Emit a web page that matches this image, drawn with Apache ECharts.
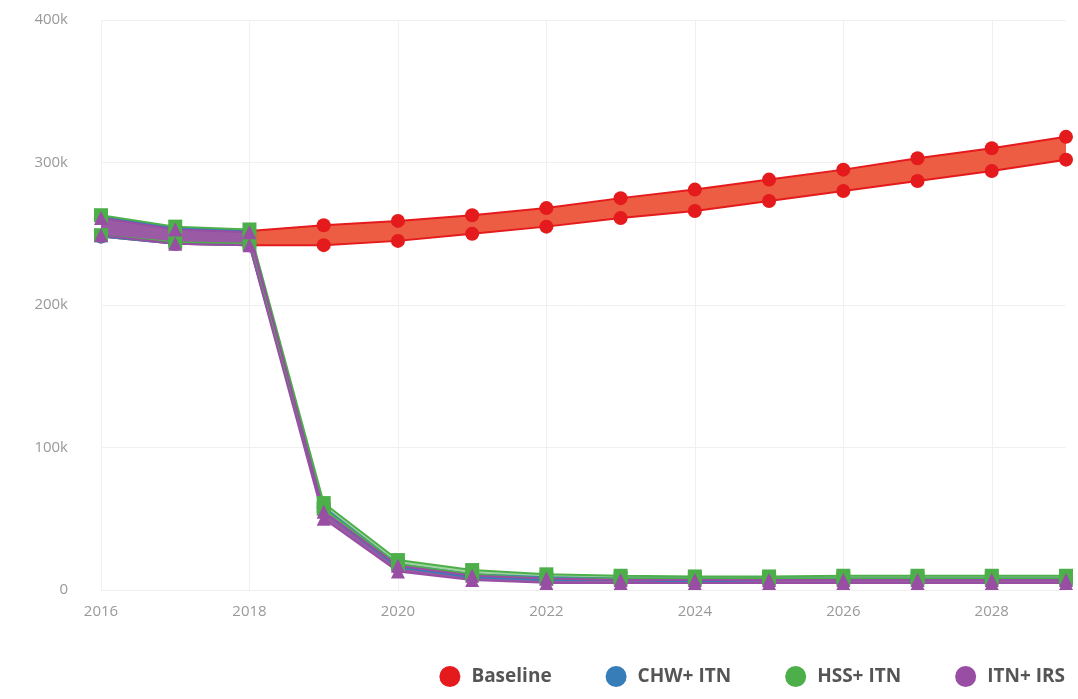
<!doctype html>
<html>
<head>
<meta charset="utf-8">
<title>Malaria cases by scenario</title>
<script src="https://cdn.jsdelivr.net/npm/echarts@6/dist/echarts.min.js"></script>
<style>
  html, body { margin: 0; padding: 0; background: #fff; }
  #chart { width: 1078px; height: 699px; }
</style>
</head>
<body>
<div id="chart"></div>
<script type="text/javascript">
var years = ['2016','2017','2018','2019','2020','2021','2022','2023','2024','2025','2026','2027','2028','2029'];

// values in thousands
var baselineHigh = [262, 254, 252, 256, 259, 263, 268, 275, 281, 288, 295, 303, 310, 318];
var baselineLow  = [248, 243, 242, 242, 245, 250, 255, 261, 266, 273, 280, 287, 294, 302];
var chwHigh = [262, 254, 252, 58, 18, 11, 9, 8, 8, 8, 8, 8, 8, 8];
var chwLow  = [248, 243, 242, 55, 16, 9, 7, 7, 6, 7, 7, 7, 7, 7];
var hssHigh = [263, 255, 253, 61, 21, 14, 11, 10, 9.5, 9.5, 10, 10, 10, 10];
var hssLow  = [249, 244, 243, 57, 18, 11, 8, 8, 8, 8, 8, 8, 8, 8];
var irsHigh = [261, 253, 251, 55, 17, 10, 8, 7, 7, 7, 7, 7, 7, 7];
var irsLow  = [249, 243, 242, 50, 13, 7, 5, 5, 5, 5, 5, 5, 5, 5];

var names = ['Baseline', 'CHW+ ITN', 'HSS+ ITN', 'ITN+ IRS'];
var colors = ['#e41a1c', '#377eb8', '#4daf4a', '#984ea3'];

function k(arr) { return arr.map(function (v) { return v * 1000; }); }
function diff(hi, lo) { return hi.map(function (v, i) { return (v - lo[i]) * 1000; }); }

function band(name, lo, hi, color, fill, symbol, stackId) {
    return [{
        name: name, type: 'line', stack: stackId, data: k(lo),
        symbol: symbol, symbolSize: 14, showSymbol: true,
        lineStyle: { color: color, width: 2 },
        itemStyle: { color: color },
        z: 2
    }, {
        name: name, type: 'line', stack: stackId, data: diff(hi, lo),
        symbol: symbol, symbolSize: 14, showSymbol: true,
        lineStyle: { color: color, width: 2 },
        itemStyle: { color: color },
        areaStyle: { color: fill, opacity: 1 },
        z: 2
    }];
}

var series = [].concat(
    band(names[0], baselineLow, baselineHigh, colors[0], '#ec5d43', 'circle', 'b'),
    band(names[1], chwLow, chwHigh, colors[1], '#b9c9d8', 'circle', 'c'),
    band(names[2], hssLow, hssHigh, colors[2], '#9fd39d', 'rect', 'h'),
    band(names[3], irsLow, irsHigh, colors[3], '#9a5aa4', 'triangle', 'i')
);

var myChart = echarts.init(document.getElementById('chart'));
var option = {
    animation: false,
    color: colors,
    grid: { left: 101, right: 12, top: 20, bottom: 109 },
    legend: {
        data: names.map(function (n, i) {
            return { name: n, itemStyle: { color: colors[i] } };
        }),
        icon: 'circle',
        itemWidth: 21, itemHeight: 21, itemGap: 54,
        right: 8, bottom: 7,
        textStyle: { fontFamily: 'Open Sans', fontSize: 19, fontWeight: 'bold', color: '#555', padding: [0, 0, 0, 6] }
    },
    xAxis: {
        type: 'category',
        data: years,
        boundaryGap: false,
        axisLine: { show: false },
        axisTick: { show: false },
        axisLabel: { interval: 1, color: '#999', fontFamily: 'Open Sans', fontSize: 15, margin: 14 },
        splitLine: { show: true, interval: 1, lineStyle: { color: '#f0f0f0' } }
    },
    yAxis: {
        type: 'value',
        min: 0, max: 400000, interval: 100000,
        axisLine: { show: false },
        axisTick: { show: false },
        axisLabel: {
            color: '#999', fontFamily: 'Open Sans', fontSize: 15, margin: 33,
            formatter: function (v) { return v === 0 ? '0' : (v / 1000) + 'k'; }
        },
        splitLine: { lineStyle: { color: '#f0f0f0' } }
    },
    series: series
};
myChart.setOption(option);
</script>
</body>
</html>
